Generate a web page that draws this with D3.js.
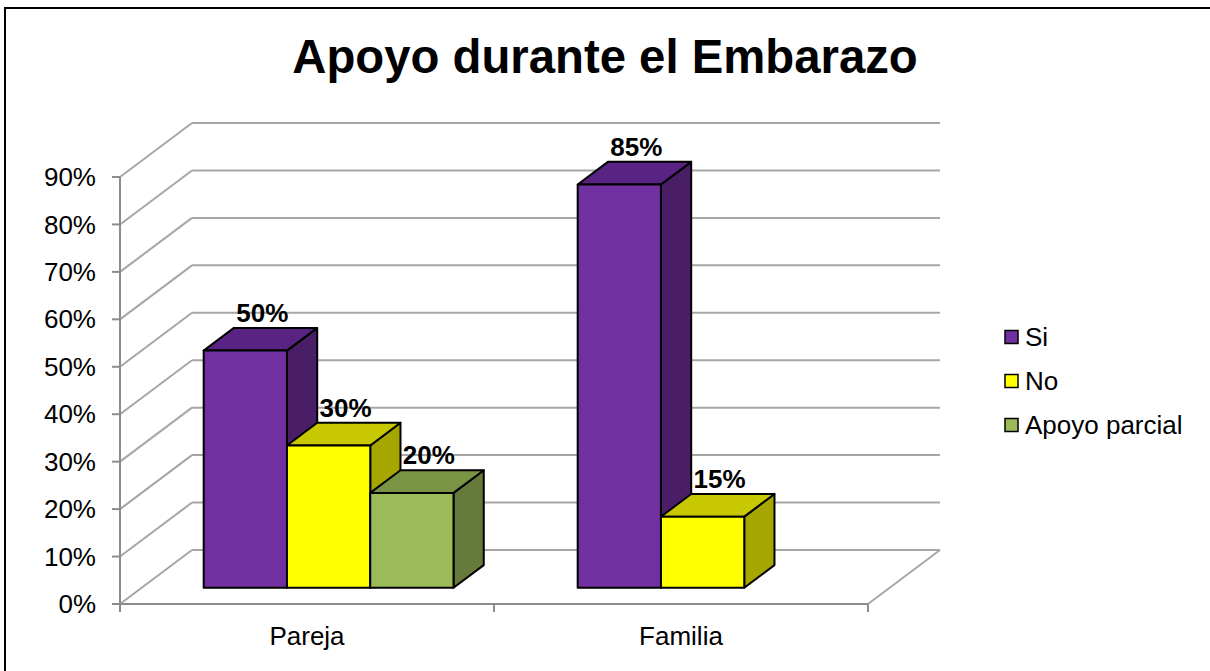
<!DOCTYPE html>
<html>
<head>
<meta charset="utf-8">
<script src="https://cdn.jsdelivr.net/npm/d3@7"></script>
<style>
  body { margin: 0; background: #fff; }
  text { font-family: Arial, "Liberation Sans", sans-serif; }
</style>
</head>
<body>
<div id="chart"></div>
<script>
// data
var categories = ["Pareja", "Familia"];
var series = ["Si", "No", "Apoyo parcial"];
var values = {
	"Si": [0.50, 0.85],
	"No": [0.30, 0.15],
	"Apoyo parcial": [0.20, null]
};
var yTicks = [0, 0.1, 0.2, 0.3, 0.4, 0.5, 0.6, 0.7, 0.8, 0.9];

var colors = {
	"Si": { front: "#7030a0", top: "#582382", side: "#4a1e66" },
	"No": { front: "#ffff00", top: "#c8c800", side: "#a6a600" },
	"Apoyo parcial": { front: "#9bbb59", top: "#7a9446", side: "#667b3b" }
};

var W = 1210, H = 671;
var svg = d3.select("#chart").append("svg")
	.attr("width", W)
	.attr("height", H);

// frame
svg.append("rect")
	.attr("x", 5).attr("y", 8)
	.attr("width", 1300).attr("height", 800)
	.attr("fill", "none")
	.attr("stroke", "#000")
	.attr("stroke-width", 2);

// title
svg.append("text")
	.attr("x", 605)
	.attr("y", 73)
	.attr("text-anchor", "middle")
	.attr("font-size", 47.3)
	.attr("font-weight", "bold")
	.text("Apoyo durante el Embarazo");

// scales
var y = d3.scaleLinear().domain([0, 0.9]).range([604, 177]);
var x = d3.scaleBand().domain(categories).range([120, 868]);

// depth of the floor (3d offset)
var DX = 72, DY = 54;
var zFront = 0.3, zBack = 0.72;

var groupW = x.bandwidth() * 0.668;
function xSub(cat) {
	var c = x(cat) + x.bandwidth() / 2;
	return d3.scaleBand().domain(series).range([c - groupW / 2, c + groupW / 2]);
}

// walls and gridlines
var grid = svg.append("g").attr("class", "grid")
	.attr("stroke", "#a6a6a6")
	.attr("stroke-width", 2)
	.attr("fill", "none");

yTicks.forEach(function(t) {
	grid.append("line")
		.attr("x1", 120).attr("y1", y(t))
		.attr("x2", 120 + DX).attr("y2", y(t) - DY);
	grid.append("line")
		.attr("x1", 120 + DX).attr("y1", y(t) - DY)
		.attr("x2", 868 + DX).attr("y2", y(t) - DY);
});
// floor right edge
grid.append("line")
	.attr("x1", 868).attr("y1", y(0))
	.attr("x2", 868 + DX).attr("y2", y(0) - DY);

// axes
var axisColor = "#8c8c8c";
var axes = svg.append("g").attr("stroke", axisColor).attr("stroke-width", 2);
axes.append("line")
	.attr("x1", 120).attr("y1", y(0.9))
	.attr("x2", 120).attr("y2", y(0) + 8);
axes.append("line")
	.attr("x1", 112).attr("y1", y(0))
	.attr("x2", 868).attr("y2", y(0));
yTicks.forEach(function(t) {
	axes.append("line")
		.attr("x1", 112).attr("y1", y(t))
		.attr("x2", 120).attr("y2", y(t));
});
[120, x("Familia"), 868].forEach(function(px) {
	axes.append("line")
		.attr("x1", px).attr("y1", y(0))
		.attr("x2", px).attr("y2", y(0) + 8);
});

// y tick labels
svg.selectAll(".y-label")
	.data(yTicks)
	.enter().append("text")
	.attr("class", "y-label")
	.attr("x", 96)
	.attr("y", function(d) { return y(d); })
	.attr("dy", ".35em")
	.attr("text-anchor", "end")
	.attr("font-size", 26)
	.text(d3.format(".0%"));

// x labels
svg.selectAll(".x-label")
	.data(categories)
	.enter().append("text")
	.attr("class", "x-label")
	.attr("x", function(d) { return x(d) + x.bandwidth() / 2; })
	.attr("y", 645)
	.attr("text-anchor", "middle")
	.attr("font-size", 26)
	.text(function(d) { return d; });

// bars
var bars = [];
categories.forEach(function(cat, i) {
	var sub = xSub(cat);
	series.forEach(function(s) {
		if (values[s][i] == null) return;
		bars.push({ cat: cat, s: s, v: values[s][i], x0: sub(s), w: sub.bandwidth() });
	});
});

var fx = zFront * DX, fy = zFront * DY;
var bx = zBack * DX, by = zBack * DY;

function pts(arr) {
	return arr.map(function(p) { return p.join(","); }).join(" ");
}

var barG = svg.selectAll(".bar3d")
	.data(bars)
	.enter().append("g")
	.attr("class", "bar3d")
	.attr("stroke", "#000")
	.attr("stroke-width", 2)
	.attr("stroke-linejoin", "round");

barG.append("polygon")
	.attr("fill", function(d) { return colors[d.s].side; })
	.attr("points", function(d) {
		var r = d.x0 + d.w;
		return pts([
			[r + fx, y(0) - fy], [r + bx, y(0) - by],
			[r + bx, y(d.v) - by], [r + fx, y(d.v) - fy]
		]);
	});

barG.append("polygon")
	.attr("fill", function(d) { return colors[d.s].top; })
	.attr("points", function(d) {
		var l = d.x0, r = d.x0 + d.w;
		return pts([
			[l + fx, y(d.v) - fy], [l + bx, y(d.v) - by],
			[r + bx, y(d.v) - by], [r + fx, y(d.v) - fy]
		]);
	});

barG.append("rect")
	.attr("fill", function(d) { return colors[d.s].front; })
	.attr("x", function(d) { return d.x0 + fx; })
	.attr("y", function(d) { return y(d.v) - fy; })
	.attr("width", function(d) { return d.w; })
	.attr("height", function(d) { return y(0) - y(d.v); });

// value labels
svg.selectAll(".bar-label")
	.data(bars)
	.enter().append("text")
	.attr("class", "bar-label")
	.attr("x", function(d) { return d.x0 + fx + d.w / 2 + 17; })
	.attr("y", function(d) { return y(d.v) - by - 6; })
	.attr("text-anchor", "middle")
	.attr("font-size", 26)
	.attr("font-weight", "bold")
	.text(function(d) { return d3.format(".0%")(d.v); });

// legend
var legend = svg.selectAll(".legend")
	.data(series)
	.enter().append("g")
	.attr("class", "legend")
	.attr("transform", function(d, i) { return "translate(1005," + (337 + i * 44) + ")"; });

legend.append("rect")
	.attr("x", 0).attr("y", -6.5)
	.attr("width", 13).attr("height", 13)
	.attr("fill", function(d) { return colors[d].front; })
	.attr("stroke", "#000")
	.attr("stroke-width", 1.5);

legend.append("text")
	.attr("x", 20)
	.attr("y", 0)
	.attr("dy", ".35em")
	.attr("font-size", 26)
	.text(function(d) { return d; });
</script>
</body>
</html>
